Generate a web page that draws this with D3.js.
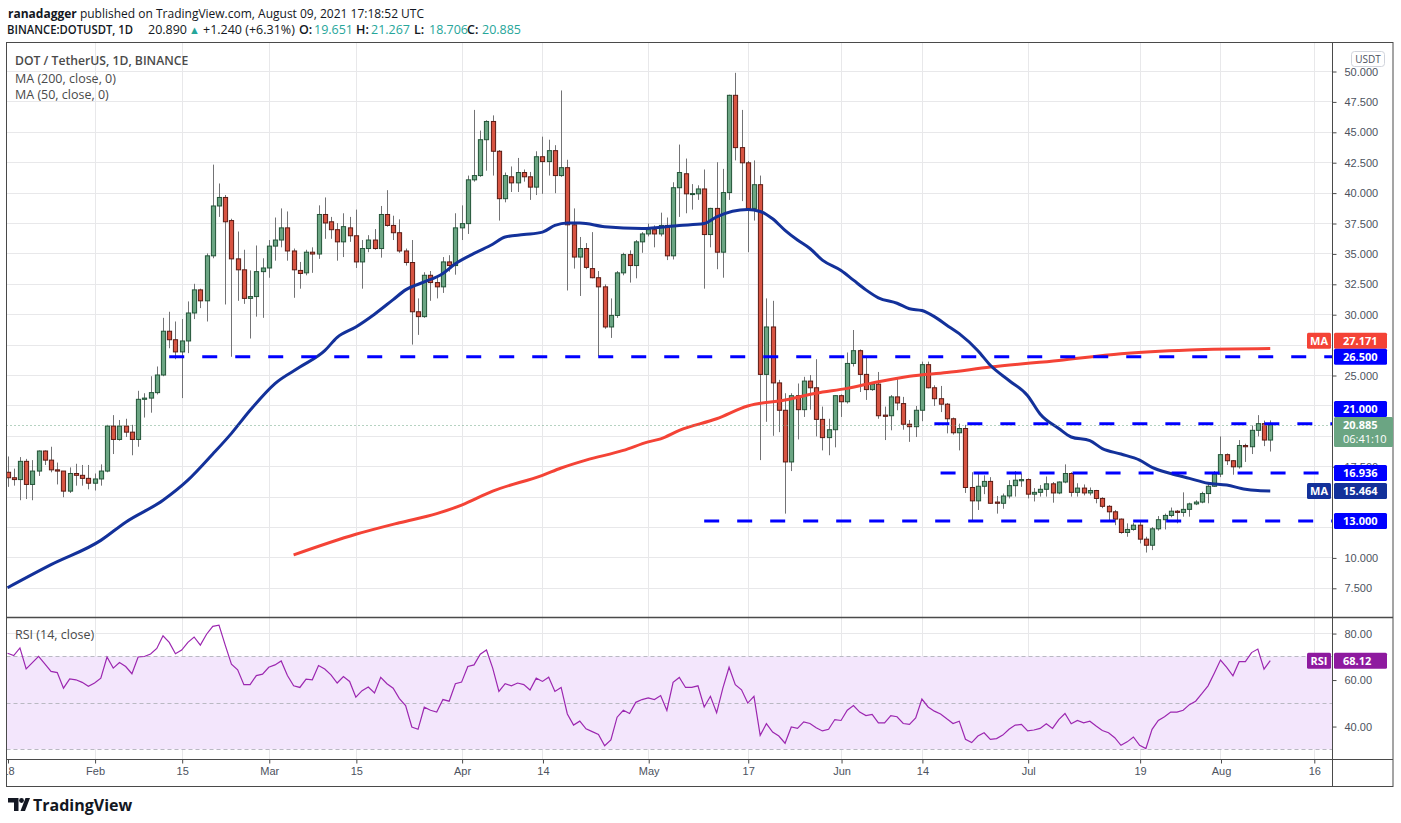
<!DOCTYPE html>
<html lang="en">
    <head>
        <meta charset="utf-8">
        <title>DOT / TetherUS, 1D, BINANCE</title>
        <script src="https://d3js.org/d3.v7.min.js"></script>
        <style>
            body { margin: 0; background: #ffffff; }
            svg text { font-family: "Open Sans", "Liberation Sans", sans-serif; }
            .axis text { font-family: "Liberation Sans", sans-serif; font-size: 11px; fill: #4c525e; }
        </style>
    </head>
    <body>
        <div class="dot-chart"></div>

        <script>
            /* daily candles, 2021-01-18 .. 2021-08-09 (one value per day) */
            const firstDay = "2021-01-18";
            const lastDay = "2021-08-09";

            const opens = [
                17.0, 16.55, 16.4, 17.9, 16.0, 17.1, 18.75, 18.0, 17.2, 17.1, 15.45, 16.9, 16.75, 16.5,
                16.1, 16.45, 17.1, 20.8, 19.7, 20.8, 20.3, 19.7, 23.0, 23.1, 23.55, 25.0, 28.6, 27.9, 26.9, 27.8, 30.1, 32.0, 31.1, 34.8, 38.9, 39.6, 37.7, 34.55, 33.65, 31.3, 31.45, 33.5,
                33.8, 35.6, 36.1, 37.1, 35.2, 33.6, 33.4, 35.1, 34.95, 38.2, 37.6, 36.95, 35.95, 37.1, 36.45, 34.3, 35.4, 36.1, 35.4, 38.2, 37.3, 36.7, 35.2, 34.25, 30.2, 29.8, 33.2, 32.6, 32.25, 34.3, 34.0,
                37.1, 37.45, 41.05, 41.4, 44.35, 45.85, 43.4, 39.5, 41.3, 40.8, 41.65, 41.3, 40.45, 42.95, 42.55, 43.45, 41.4, 42.05, 37.35, 34.7, 35.4, 33.75, 33.0, 32.25, 28.95, 29.9, 33.4, 34.9, 34.0, 35.95,
                36.6, 36.95, 36.6, 37.3, 34.8, 40.4, 41.55, 39.88, 39.9, 40.3, 36.55, 38.7, 35.1, 40.0, 48.0, 43.7, 42.45, 38.7, 40.65, 25.05, 28.95, 24.35, 22.1, 17.85, 23.3, 22.15, 24.5, 23.95, 21.35, 19.85, 20.5,
                23.3, 22.8, 25.95, 27.0, 25.05, 23.8, 24.25, 21.7, 21.65, 23.2, 22.65, 20.95, 20.75, 22.1, 25.85, 23.95, 23.05, 22.6, 21.4, 20.25, 20.6, 15.75, 14.65, 15.85, 16.25, 14.55, 14.45, 15.05, 15.9, 16.3,
                16.4, 15.2, 15.35, 15.6, 16.05, 15.3, 16.2, 16.9, 15.35, 15.7, 15.3, 15.5, 14.85, 14.2, 13.75, 13.15, 12.05, 12.3, 12.65, 11.5, 11.0, 12.35, 13.1, 13.45, 13.8, 13.7, 13.95, 14.4, 14.55, 15.25, 15.85,
                16.85, 18.45, 17.95, 17.45, 19.2, 19.1, 20.45, 21.0, 19.651
            ];
            const highs = [
                18.3, 17.3, 18.25, 18.1, 18.0, 18.8, 18.8, 19.1, 17.8, 17.1, 17.4, 17.7, 17.6, 17.6,
                16.9, 17.65, 20.9, 21.7, 21.3, 21.4, 20.9, 23.7, 23.5, 24.9, 25.7, 29.7, 30.2, 29.4, 29.6, 31.05, 32.5, 32.1, 35.0, 42.3, 40.75, 39.8, 37.85, 36.8, 35.3, 33.6, 35.65, 34.6,
                36.1, 37.95, 38.7, 38.45, 35.4, 34.3, 35.3, 35.5, 38.95, 39.6, 38.0, 37.5, 38.3, 38.0, 38.6, 36.1, 36.5, 37.0, 38.9, 40.2, 38.1, 37.8, 35.4, 36.1, 31.3, 33.45, 33.55, 33.2, 34.7, 34.85, 38.3,
                38.95, 41.4, 46.8, 45.1, 45.95, 46.35, 43.5, 41.65, 42.15, 42.85, 41.9, 41.7, 43.4, 44.6, 44.35, 43.9, 48.4, 42.7, 38.7, 36.35, 35.85, 36.75, 33.55, 32.45, 31.3, 33.55, 35.05, 35.25, 36.1, 36.75,
                37.45, 37.3, 38.35, 37.95, 40.85, 43.95, 42.8, 40.7, 40.6, 41.9, 38.75, 42.5, 41.95, 48.05, 49.85, 46.8, 42.6, 42.65, 41.4, 31.3, 31.1, 24.6, 23.5, 23.5, 24.3, 24.85, 25.0, 26.3, 22.4, 21.4, 23.35,
                23.4, 26.85, 28.7, 27.1, 26.5, 24.35, 25.25, 22.4, 23.35, 24.7, 23.2, 21.3, 22.45, 26.1, 26.1, 24.15, 24.1, 22.7, 21.5, 21.0, 20.9, 17.0, 16.85, 16.75, 16.6, 15.05, 15.25, 16.35, 17.1, 16.9,
                16.5, 15.7, 15.95, 16.65, 16.2, 16.25, 17.65, 17.0, 16.1, 16.0, 15.75, 15.55, 14.95, 14.3, 13.9, 13.2, 12.8, 12.85, 12.95, 11.7, 12.5, 13.4, 13.6, 14.1, 13.9, 15.35, 14.5, 14.7, 15.4, 16.1, 17.1,
                19.95, 18.55, 18.0, 19.65, 19.35, 20.85, 21.7, 21.25, 21.267
            ];
            const lows = [
                15.8, 15.9, 14.7, 14.8, 14.7, 16.7, 17.6, 17.0, 16.0, 14.95, 15.3, 15.9, 15.9, 15.6,
                15.5, 15.9, 17.0, 18.5, 19.6, 19.9, 18.4, 19.1, 21.5, 21.9, 23.4, 24.9, 27.2, 26.3, 23.1, 26.8, 29.6, 30.5, 29.4, 34.6, 38.0, 30.8, 26.5, 31.1, 30.85, 28.0, 29.8, 29.7,
                33.0, 34.4, 35.5, 34.4, 31.35, 32.1, 33.2, 33.4, 34.55, 36.2, 36.2, 34.4, 34.7, 35.95, 33.8, 32.1, 35.1, 35.3, 34.65, 37.2, 36.1, 35.05, 34.0, 27.5, 28.3, 29.7, 31.1, 31.3, 31.75, 33.5, 33.25,
                36.1, 36.6, 40.9, 41.3, 41.8, 41.4, 37.7, 39.2, 40.05, 40.05, 40.9, 39.4, 39.8, 39.9, 41.4, 39.95, 41.3, 31.95, 33.75, 31.5, 33.7, 32.95, 26.55, 28.8, 28.05, 29.7, 33.2, 32.6, 32.95, 35.05,
                36.4, 35.5, 36.4, 34.45, 34.5, 38.0, 38.3, 38.6, 39.4, 32.1, 35.5, 33.7, 33.0, 39.4, 42.65, 39.3, 35.1, 37.7, 18.0, 21.15, 20.0, 20.3, 13.6, 17.1, 19.7, 21.55, 22.15, 19.95, 18.8, 18.4, 19.05,
                21.55, 22.65, 25.7, 23.6, 22.95, 23.7, 21.4, 19.65, 20.45, 22.1, 20.5, 19.5, 19.9, 21.2, 23.9, 22.45, 21.95, 20.2, 20.1, 18.8, 15.3, 13.0, 13.9, 15.2, 14.4, 13.6, 14.0, 14.85, 15.0, 15.8,
                14.85, 14.6, 15.0, 15.0, 14.5, 15.2, 16.1, 15.0, 15.0, 15.1, 15.1, 14.45, 14.05, 13.05, 12.65, 11.95, 11.7, 12.2, 11.15, 10.4, 10.6, 12.2, 12.3, 13.3, 12.8, 13.35, 13.35, 14.3, 14.45, 14.45, 15.8,
                16.6, 17.6, 16.8, 17.3, 17.85, 18.5, 19.95, 19.15, 18.706
            ];
            const closes = [
                16.55, 16.4, 17.9, 16.0, 17.1, 18.75, 18.0, 17.2, 17.1, 15.45, 16.9, 16.75, 16.5, 16.1,
                16.45, 17.1, 20.8, 19.7, 20.8, 20.3, 19.7, 23.0, 23.1, 23.55, 25.0, 28.6, 27.9, 26.9, 27.8, 30.1, 32.0, 31.1, 34.8, 38.9, 39.6, 37.6, 34.55, 33.65, 31.3, 31.45, 33.5, 33.8,
                35.6, 36.1, 37.1, 35.2, 33.65, 33.35, 35.1, 34.95, 38.2, 37.5, 36.95, 35.95, 37.2, 36.45, 34.3, 35.4, 36.1, 35.4, 38.2, 37.3, 36.7, 35.2, 34.25, 30.2, 29.8, 33.2, 32.6, 32.25, 34.3, 34.0, 37.1,
                37.45, 41.05, 41.4, 44.35, 45.85, 43.4, 39.5, 41.4, 40.8, 41.65, 41.3, 40.45, 42.95, 42.55, 43.45, 41.4, 42.05, 37.35, 34.7, 35.4, 33.85, 33.0, 32.25, 28.95, 29.9, 33.4, 34.9, 34.0, 35.95, 36.6,
                36.95, 36.6, 37.3, 34.8, 40.4, 41.65, 39.9, 39.92, 40.3, 36.55, 38.7, 35.1, 40.0, 48.0, 43.7, 42.45, 38.7, 40.65, 25.05, 28.95, 24.35, 22.1, 17.85, 23.3, 22.15, 24.5, 23.95, 21.35, 19.85, 20.5, 23.3,
                22.8, 25.95, 27.0, 25.05, 23.8, 24.25, 21.65, 21.6, 23.2, 22.7, 20.95, 20.75, 22.1, 25.85, 23.95, 23.05, 22.6, 21.4, 20.25, 20.6, 15.75, 14.65, 15.85, 16.25, 14.45, 14.45, 15.05, 15.9, 16.35, 16.4,
                15.2, 15.35, 15.6, 16.05, 15.3, 16.2, 16.9, 15.35, 15.7, 15.3, 15.5, 14.85, 14.2, 13.75, 13.15, 12.05, 12.3, 12.65, 11.5, 11.0, 12.35, 13.1, 13.45, 13.8, 13.7, 13.95, 14.4, 14.55, 15.25, 15.85, 16.85,
                18.45, 17.95, 17.45, 19.2, 19.1, 20.45, 21.0, 19.651, 20.885
            ];

            /* RSI(14), one value per candle */
            const rsiValues = [
                71.3, 70.3, 73.6, 64.6, 67.3, 70.0, 66.7, 63.5, 63.0, 56.3, 60.3, 59.9, 58.8, 57.1,
                58.5, 60.6, 69.7, 64.9, 67.3, 65.6, 62.5, 69.7, 69.9, 71.0, 73.4, 78.8, 76.0, 71.1, 72.7, 76.0, 78.3, 74.8, 79.5, 82.9, 83.4, 74.8, 66.6, 64.2, 57.8, 57.8, 61.7, 62.3,
                65.3, 66.3, 68.0, 61.7, 57.3, 56.6, 60.2, 59.9, 66.0, 64.5, 62.0, 58.5, 61.3, 59.2, 52.4, 55.2, 56.8, 54.2, 61.0, 58.2, 56.3, 51.8, 48.8, 39.6, 38.6, 48.1, 46.8, 46.0, 51.4, 50.7, 58.2,
                58.9, 65.6, 66.3, 70.9, 72.7, 64.9, 54.9, 58.2, 57.3, 58.5, 57.8, 55.5, 60.6, 59.2, 61.0, 54.9, 56.6, 45.2, 40.4, 42.1, 38.8, 37.6, 36.4, 31.5, 34.0, 43.8, 46.8, 45.4, 50.2, 51.4,
                52.1, 51.4, 53.1, 46.7, 58.8, 60.9, 56.6, 56.6, 57.3, 48.2, 52.8, 45.7, 56.3, 65.3, 57.8, 55.6, 49.9, 52.8, 36.0, 41.0, 37.4, 35.7, 32.6, 39.6, 39.0, 41.8, 41.1, 39.3, 37.9, 38.6, 42.8,
                42.4, 46.8, 48.8, 46.0, 44.5, 45.0, 41.4, 41.4, 44.5, 44.0, 41.1, 40.7, 43.5, 51.6, 48.2, 46.4, 45.2, 43.1, 41.1, 42.1, 34.3, 32.9, 35.7, 37.1, 34.3, 34.6, 36.1, 38.6, 40.4, 40.7,
                37.9, 38.3, 39.0, 41.0, 39.0, 42.8, 45.4, 41.0, 42.4, 41.4, 42.1, 40.0, 38.1, 37.1, 35.0, 31.7, 33.2, 35.3, 31.7, 30.3, 38.6, 42.4, 44.0, 46.0, 46.0, 46.8, 49.2, 50.7, 53.9, 57.3, 62.7,
                68.4, 65.2, 61.6, 67.7, 67.7, 71.6, 73.1, 64.5, 68.12
            ];

            /* moving averages at these dates */
            const ma50Dates = [
                "2021-01-18", "2021-01-25", "2021-02-02", "2021-02-06", "2021-02-12", "2021-02-16", "2021-02-20", "2021-02-23",
                "2021-02-26", "2021-03-02", "2021-03-06", "2021-03-10", "2021-03-12", "2021-03-15", "2021-03-18", "2021-03-21",
                "2021-03-23", "2021-03-26", "2021-03-29", "2021-03-31", "2021-04-03", "2021-04-06", "2021-04-08", "2021-04-11",
                "2021-04-14", "2021-04-16", "2021-04-18", "2021-04-20", "2021-04-24", "2021-04-30", "2021-05-06", "2021-05-10",
                "2021-05-12", "2021-05-17", "2021-05-19", "2021-05-21", "2021-05-23", "2021-05-25", "2021-05-27", "2021-05-29",
                "2021-06-01", "2021-06-03", "2021-06-05", "2021-06-07", "2021-06-10", "2021-06-12", "2021-06-14", "2021-06-16",
                "2021-06-18", "2021-06-20", "2021-06-23", "2021-06-25", "2021-06-28", "2021-07-01", "2021-07-03", "2021-07-06",
                "2021-07-08", "2021-07-11", "2021-07-13", "2021-07-16", "2021-07-19", "2021-07-21", "2021-07-24", "2021-07-27",
                "2021-07-30", "2021-08-02", "2021-08-05", "2021-08-07", "2021-08-09"
            ];
            const ma50Values = [
                7.5, 9.4, 11.4, 12.9, 14.7, 16.35, 18.5, 20.2,
                22.1, 24.3, 25.65, 27.0, 28.1, 28.95, 30.0, 31.2,
                32.0, 32.65, 33.35, 34.15, 35.0, 35.75, 36.35, 36.55,
                36.75, 37.3, 37.5, 37.5, 37.2, 37.05, 37.3, 37.45,
                38.0, 38.6, 38.45, 37.85, 36.9, 36.1, 35.4, 34.45,
                33.6, 32.8, 32.0, 31.35, 30.9, 30.45, 30.3, 29.8,
                29.1, 28.4, 27.0, 25.8, 24.55, 23.3, 21.8, 20.6,
                19.9, 19.6, 18.95, 18.5, 18.0, 17.4, 16.9, 16.5,
                16.1, 15.95, 15.6, 15.5, 15.464
            ];
            const ma200Dates = [
                "2021-03-05", "2021-03-15", "2021-03-22", "2021-03-28", "2021-04-01", "2021-04-06", "2021-04-14", "2021-04-17",
                "2021-04-21", "2021-04-27", "2021-05-01", "2021-05-03", "2021-05-06", "2021-05-12", "2021-05-17", "2021-05-23",
                "2021-05-28", "2021-06-02", "2021-06-07", "2021-06-12", "2021-06-18", "2021-06-25", "2021-07-06", "2021-07-16",
                "2021-07-27", "2021-08-09"
            ];
            const ma200Values = [
                10.2, 11.9, 12.85, 13.6, 14.3, 15.45, 16.75, 17.35,
                18.0, 18.8, 19.5, 19.75, 20.45, 21.4, 22.45, 22.95,
                23.5, 23.9, 24.45, 24.9, 25.2, 25.65, 26.2, 26.75,
                27.05, 27.171
            ];

            /* horizontal levels drawn by the author */
            const levelValues = [26.5, 21.0, 16.936, 13.0];
            const levelFrom = ["2021-02-13", "2021-06-16", "2021-06-17", "2021-05-10"];

            /* axes */
            const priceTicks = [7.5, 10, 12.5, 15, 17.5, 20, 22.5, 25, 27.5, 30, 32.5, 35, 37.5, 40, 42.5, 45, 47.5, 50];
            const priceTicksHidden = [12.5, 15, 20, 22.5, 27.5];
            const rsiTicks = [40, 60, 80];
            const timeTicks = ["2021-01-18", "2021-02-01", "2021-02-15", "2021-03-01", "2021-03-15", "2021-04-01", "2021-04-14",
                "2021-05-01", "2021-05-17", "2021-06-01", "2021-06-14", "2021-07-01", "2021-07-19", "2021-08-01", "2021-08-16"];
            const timeLabels = ["18", "Feb", "15", "Mar", "15", "Apr", "14", "May", "17", "Jun", "14", "Jul", "19", "Aug", "16"];


            const width = 1401;
            const height = 823;
            const left = 6.5, plotRight = 1332, right = 1393;
            const mainTop = 42, mainBottom = 617, rsiBottom = 759, bottom = 786;

            const upColor = '#6ba583', upBorder = '#225437';
            const downColor = '#d75442', downBorder = '#5b1a13';
            const wickColor = '#737375';
            const gridColor = '#e8e8ea';
            const levelBlue = '#0000ff';
            const ma50Color = '#13319a';
            const ma200Color = '#f44336';
            const rsiColor = '#9c27b0';

            const parse = s => new Date(s + 'T00:00:00Z');

            const x = d3.scaleUtc()
                .domain([parse("2021-01-18"), parse("2021-08-16")])
                .range([7.5, 1313.8]);
            const y = d3.scaleLinear().domain([7.5, 50]).range([587.8, 71]);
            const yRsi = d3.scaleLinear().domain([30, 70]).range([749.3, 656.3]);

            const days = d3.utcDays(parse(firstDay), d3.utcDay.offset(parse(lastDay), 1));
            const candles = days.map((d, i) => ({date: d, o: opens[i], h: highs[i], l: lows[i], c: closes[i]}));
            const rsi = days.map((d, i) => ({date: d, v: rsiValues[i]}));
            const ma50 = ma50Dates.map((d, i) => ({date: parse(d), v: ma50Values[i]}));
            const ma200 = ma200Dates.map((d, i) => ({date: parse(d), v: ma200Values[i]}));

            const svg = d3.select('.dot-chart')
                .append('svg')
                .attr('width', width)
                .attr('height', height);

            svg.append('rect').attr('width', width).attr('height', height).attr('fill', '#ffffff');

            const defs = svg.append('defs');
            defs.append('clipPath').attr('id', 'clip-main')
                .append('rect').attr('x', left).attr('y', mainTop).attr('width', plotRight - left).attr('height', mainBottom - mainTop);
            defs.append('clipPath').attr('id', 'clip-rsi')
                .append('rect').attr('x', left).attr('y', mainBottom).attr('width', plotRight - left).attr('height', rsiBottom - mainBottom);
            defs.append('clipPath').attr('id', 'clip-time')
                .append('rect').attr('x', left + 0.5).attr('y', rsiBottom).attr('width', plotRight - left).attr('height', bottom - rsiBottom);

            /* grid */
            const grid = svg.append('g').attr('stroke', gridColor).attr('stroke-width', 1);
            grid.append('g').attr('clip-path', 'url(#clip-main)')
                .selectAll('line').data(priceTicks).enter().append('line')
                .attr('x1', left).attr('x2', plotRight)
                .attr('y1', d => Math.round(y(d)) + 0.5).attr('y2', d => Math.round(y(d)) + 0.5);
            grid.append('g').attr('clip-path', 'url(#clip-rsi)')
                .selectAll('line').data(rsiTicks).enter().append('line')
                .attr('x1', left).attr('x2', plotRight)
                .attr('y1', d => Math.round(yRsi(d)) + 0.5).attr('y2', d => Math.round(yRsi(d)) + 0.5);
            grid.append('g')
                .selectAll('line').data(timeTicks.slice(1)).enter().append('line')
                .attr('x1', d => Math.round(x(parse(d))) + 0.5).attr('x2', d => Math.round(x(parse(d))) + 0.5)
                .attr('y1', mainTop).attr('y2', rsiBottom);

            /* RSI pane */
            const rsiPane = svg.append('g').attr('clip-path', 'url(#clip-rsi)');
            rsiPane.append('rect')
                .attr('x', left).attr('width', plotRight - left)
                .attr('y', yRsi(70)).attr('height', yRsi(30) - yRsi(70))
                .attr('fill', '#f3e6fc');
            rsiPane.selectAll('.band-line').data([70, 50, 30]).enter().append('line')
                .attr('x1', left).attr('x2', plotRight)
                .attr('y1', d => Math.round(yRsi(d)) + 0.5).attr('y2', d => Math.round(yRsi(d)) + 0.5)
                .attr('stroke', '#b9b9c2').attr('stroke-dasharray', '4,3');
            rsiPane.append('path')
                .datum(rsi)
                .attr('fill', 'none')
                .attr('stroke', rsiColor)
                .attr('stroke-width', 1.2)
                .attr('d', d3.line().x(d => x(d.date)).y(d => yRsi(d.v)));

            /* candles */
            const main = svg.append('g').attr('clip-path', 'url(#clip-main)');
            const bars = main.selectAll('.candle').data(candles).enter().append('g').attr('class', 'candle');
            bars.append('line')
                .attr('x1', d => Math.round(x(d.date)) + 0.5).attr('x2', d => Math.round(x(d.date)) + 0.5)
                .attr('y1', d => y(d.h)).attr('y2', d => y(d.l))
                .attr('stroke', wickColor).attr('stroke-width', 1);
            bars.append('rect')
                .attr('x', d => Math.round(x(d.date)) - 1.6)
                .attr('y', d => y(Math.max(d.o, d.c)))
                .attr('width', 4.2)
                .attr('height', d => Math.max(1, Math.abs(y(d.o) - y(d.c))))
                .attr('fill', d => d.c >= d.o ? upColor : downColor)
                .attr('stroke', d => d.c >= d.o ? upBorder : downBorder)
                .attr('stroke-width', 1);

            /* moving averages */
            const maLine = d3.line().curve(d3.curveMonotoneX).x(d => x(d.date)).y(d => y(d.v));
            main.append('path').datum(ma200)
                .attr('fill', 'none').attr('stroke', ma200Color).attr('stroke-width', 3).attr('d', maLine);
            main.append('path').datum(ma50)
                .attr('fill', 'none').attr('stroke', ma50Color).attr('stroke-width', 3).attr('d', maLine);

            /* level lines and the last price line */
            main.selectAll('.level').data(levelValues).enter().append('line')
                .attr('x1', (d, i) => x(parse(levelFrom[i]))).attr('x2', plotRight)
                .attr('y1', d => y(d)).attr('y2', d => y(d))
                .attr('stroke', levelBlue).attr('stroke-width', 3).attr('stroke-dasharray', '15,18');
            const lastClose = closes[closes.length - 1];
            main.append('line')
                .attr('x1', left).attr('x2', plotRight)
                .attr('y1', Math.round(y(lastClose)) + 0.5).attr('y2', Math.round(y(lastClose)) + 0.5)
                .attr('stroke', upColor).attr('stroke-dasharray', '1,3');

            /* legends */
            const legend = svg.append('g').attr('fill', '#4a4a4a').attr('font-size', '12.5px');
            legend.append('text').attr('x', 15).attr('y', 65).attr('font-weight', 600).attr('font-size', '12.2px').text('DOT / TetherUS, 1D, BINANCE');
            legend.append('text').attr('x', 15).attr('y', 83).text('MA (200, close, 0)');
            legend.append('text').attr('x', 15).attr('y', 99).text('MA (50, close, 0)');
            legend.append('text').attr('x', 15).attr('y', 639).text('RSI (14, close)');

            /* frame */
            const frame = svg.append('g').attr('stroke', '#4a4a4a').attr('stroke-width', 1).attr('fill', 'none');
            frame.append('rect').attr('x', left).attr('y', mainTop + 0.5).attr('width', right - left).attr('height', bottom - mainTop);
            frame.append('line').attr('x1', plotRight + 0.5).attr('x2', plotRight + 0.5).attr('y1', mainTop).attr('y2', bottom);
            frame.append('line').attr('x1', left).attr('x2', right).attr('y1', mainBottom + 0.5).attr('y2', mainBottom + 0.5).attr('stroke-width', 1.5);
            frame.append('line').attr('x1', left).attr('x2', right).attr('y1', rsiBottom + 0.5).attr('y2', rsiBottom + 0.5);

            /* time axis (outer group clips, inner group is moved down) */
            const timeAxis = svg.append('g')
                .attr('clip-path', 'url(#clip-time)')
                .append('g')
                .attr('class', 'axis')
                .attr('transform', `translate(0.5,${rsiBottom + 0.5})`)
                .call(d3.axisBottom(x)
                    .tickValues(timeTicks.map(parse))
                    .tickFormat((d, i) => timeLabels[i])
                    .tickSize(4)
                    .tickPadding(4));
            timeAxis.select('.domain').remove();
            timeAxis.selectAll('.tick line').attr('stroke', '#4a4a4a');

            /* price axis */
            const priceAxis = svg.append('g')
                .attr('class', 'axis')
                .attr('transform', `translate(${plotRight + 0.5},0.5)`)
                .call(d3.axisRight(y)
                    .tickValues(priceTicks.filter(v => !priceTicksHidden.includes(v)))
                    .tickFormat(d3.format('.3f'))
                    .tickSize(4)
                    .tickPadding(8));
            priceAxis.select('.domain').remove();
            priceAxis.selectAll('.tick line').attr('stroke', '#4a4a4a');

            const rsiAxis = svg.append('g')
                .attr('class', 'axis')
                .attr('transform', `translate(${plotRight + 0.5},0.5)`)
                .call(d3.axisRight(yRsi)
                    .tickValues(rsiTicks)
                    .tickFormat(d3.format('.2f'))
                    .tickSize(4)
                    .tickPadding(8));
            rsiAxis.select('.domain').remove();
            rsiAxis.selectAll('.tick line').attr('stroke', '#4a4a4a');

            /* currency box */
            svg.append('rect').attr('x', 1351.5).attr('y', 51.5).attr('width', 33).attr('height', 15).attr('rx', 3)
                .attr('fill', '#ffffff').attr('stroke', '#d1d4dc');
            svg.append('text').attr('x', 1368).attr('y', 62.5).attr('text-anchor', 'middle')
                .attr('font-size', '10px').attr('fill', '#4c525e').text('USDT');

            /* price labels on the axis, pushed apart like the original */
            const tags = [
                {v: ma200Values[ma200Values.length - 1], fill: ma200Color, tag: 'MA', h: 16},
                {v: levelValues[0], fill: levelBlue, h: 16},
                {v: levelValues[1], fill: levelBlue, h: 16},
                {v: lastClose, fill: upColor, h: 30, sub: '06:41:10', w: 59},
                {v: levelValues[2], fill: levelBlue, h: 16},
                {v: ma50Values[ma50Values.length - 1], fill: ma50Color, tag: 'MA', h: 16},
                {v: levelValues[3], fill: levelBlue, h: 16}
            ];
            tags.forEach(t => { t.top = y(t.v) - 8; });
            const sorted = tags.slice().sort((a, b) => b.top - a.top);
            for (let i = 1; i < sorted.length; i++) {
                const lower = sorted[i - 1];
                if (sorted[i].top + sorted[i].h > lower.top) sorted[i].top = lower.top - sorted[i].h;
            }

            /* an axis number half hidden by a label only keeps the part above it */
            priceAxis.selectAll('.tick').each(function (v) {
                const tickY = y(v) + 0.5;
                tags.forEach((t, i) => {
                    if (tickY > t.top - 6 && tickY < t.top + 8) {
                        const id = 'clip-tick-' + i;
                        defs.append('clipPath').attr('id', id)
                            .append('rect').attr('x', 0).attr('y', -12).attr('width', 60).attr('height', t.top - tickY + 12);
                        d3.select(this).select('text').attr('clip-path', `url(#${id})`);
                    }
                });
            });

            const tagG = svg.append('g').attr('font-size', '11px').attr('font-weight', 700).attr('fill', '#ffffff');
            tags.forEach(t => {
                tagG.append('rect').attr('x', 1334).attr('y', t.top).attr('width', t.w || 53).attr('height', t.h)
                    .attr('rx', 1.5).attr('fill', t.fill);
                tagG.append('text').attr('x', 1343).attr('y', t.top + 12).attr('font-family', 'Liberation Sans, sans-serif')
                    .text(d3.format('.3f')(t.v));
                if (t.sub) {
                    tagG.append('text').attr('x', 1343).attr('y', t.top + 26).attr('font-family', 'Liberation Sans, sans-serif')
                        .attr('font-weight', 400).text(t.sub);
                }
                if (t.tag) {
                    tagG.append('rect').attr('x', 1307).attr('y', t.top).attr('width', 24).attr('height', t.h)
                        .attr('rx', 1.5).attr('fill', t.fill);
                    tagG.append('text').attr('x', 1319).attr('y', t.top + 12).attr('text-anchor', 'middle')
                        .attr('font-family', 'Liberation Sans, sans-serif').text(t.tag);
                }
            });
            const lastRsi = rsiValues[rsiValues.length - 1];
            const rsiTop = yRsi(lastRsi) - 8;
            tagG.append('rect').attr('x', 1334).attr('y', rsiTop).attr('width', 53).attr('height', 16).attr('rx', 1.5).attr('fill', '#8e1a9f');
            tagG.append('text').attr('x', 1343).attr('y', rsiTop + 12).attr('font-family', 'Liberation Sans, sans-serif')
                .text(d3.format('.2f')(lastRsi));
            tagG.append('rect').attr('x', 1307).attr('y', rsiTop).attr('width', 24).attr('height', 16).attr('rx', 1.5).attr('fill', '#8e1a9f');
            tagG.append('text').attr('x', 1319).attr('y', rsiTop + 12).attr('text-anchor', 'middle')
                .attr('font-family', 'Liberation Sans, sans-serif').text('RSI');

            /* header */
            const head1 = svg.append('text').attr('x', 8).attr('y', 18).attr('font-size', '12px').attr('fill', '#131722');
            head1.append('tspan').attr('font-weight', 700).text('ranadagger');
            head1.append('tspan').text(' published on TradingView.com, August 09, 2021 17:18:52 UTC');

            const teal = '#26a69a';
            const head2 = svg.append('g').attr('font-size', '12.5px').attr('fill', '#131722');
            head2.append('text').attr('x', 7).attr('y', 34).attr('font-weight', 600)
                .attr('textLength', 126).attr('lengthAdjust', 'spacingAndGlyphs').text('BINANCE:DOTUSDT, 1D');
            head2.append('text').attr('x', 148).attr('y', 34).text('20.890');
            head2.append('text').attr('x', 189).attr('y', 34).attr('fill', teal).attr('font-size', '11px').text('\u25b2');
            head2.append('text').attr('x', 203).attr('y', 34).text('+1.240 (+6.31%)');
            const ohlc = [['O:', '19.651', 299], ['H:', '21.267', 356], ['L:', '18.706', 414], ['C:', '20.885', 467]];
            ohlc.forEach(p => {
                head2.append('text').attr('x', p[2]).attr('y', 34).attr('font-weight', 600).text(p[0]);
                head2.append('text').attr('x', p[2] + 15).attr('y', 34).attr('fill', teal).text(p[1]);
            });

            /* footer logo */
            const logo = svg.append('g').attr('fill', '#131722');
            logo.append('path').attr('d', 'M8,798 H18.5 V811 H14 V802.5 H8 Z');
            logo.append('circle').attr('cx', 21.5).attr('cy', 800.5).attr('r', 2.4);
            logo.append('path').attr('d', 'M20.5,811 L25.5,798 H30 L25,811 Z');
            svg.append('text').attr('x', 33).attr('y', 810.5).attr('font-size', '16px').attr('font-weight', 700)
                .attr('fill', '#131722').attr('font-family', 'Liberation Sans, sans-serif').text('TradingView');
        </script>
    </body>
</html>
